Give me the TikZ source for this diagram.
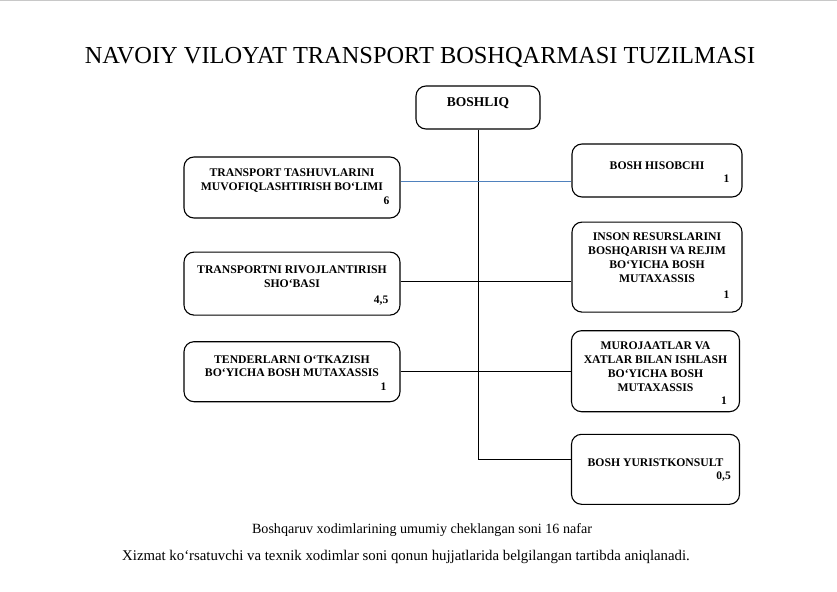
\documentclass[tikz,border=0pt]{standalone}
\usepackage{fontspec}
\setmainfont{Liberation Serif}
\usepackage{tikz}
\usetikzlibrary{positioning,calc}
\definecolor{orgline}{RGB}{79,129,189}
\definecolor{orggrey}{RGB}{200,200,200}

\begin{document}
\begin{tikzpicture}[
      x=1pt, y=-1pt,
      unit/.style={rectangle, rounded corners=10pt, draw=black, line width=1.1pt, inner sep=0pt},
      unittext/.style={align=center, inner sep=0pt, font=\fontsize{11.7}{13.8}\selectfont\bfseries},
      staffnum/.style={inner sep=0pt, text depth=0pt, font=\fontsize{11.5}{13.8}\selectfont\bfseries},
      link/.style={line width=0.8pt, draw=black},
      note/.style={font=\fontsize{14.8}{17}\selectfont},
    ]
    \useasboundingbox (0,0) rectangle (837,591);
    \draw[orggrey, line width=1.5pt] (0,0.75) -- (837,0.75);

    \node[font=\fontsize{24.4}{28}\selectfont] (title) at (420,57) {NAVOIY VILOYAT TRANSPORT BOSHQARMASI TUZILMASI};

    \node[unit, minimum width=124pt, minimum height=43pt] (boshliq) at (478,107.5) {};
    \node[unittext, font=\fontsize{13.5}{15}\selectfont\bfseries, below=12pt of boshliq.north] (boshliqtxt) {BOSHLIQ};

    % left column
    \node[unit, minimum width=216pt, minimum height=61pt] (tashuv) at (292,187.5) {};
    \node[unittext, below=12pt of tashuv.north] (tashuvtxt) {TRANSPORT TASHUVLARINI\\MUVOFIQLASHTIRISH BO‘LIMI};
    \node[staffnum, above left=14pt and 11pt of tashuv.south east] (tashuvnum) {6};

    \node[unit, minimum width=216pt, minimum height=63pt, below=33pt of tashuv] (rivoj) {};
    \node[unittext, below=14pt of rivoj.north] (rivojtxt) {TRANSPORTNI RIVOJLANTIRISH\\SHO‘BASI};
    \node[staffnum, above left=11.5pt and 12pt of rivoj.south east] (rivojnum) {4,5};

    \node[unit, minimum width=216pt, minimum height=60pt, below=25.5pt of rivoj] (tender) {};
    \node[unittext, below=14pt of tender.north] (tendertxt) {TENDERLARNI O‘TKAZISH\\BO‘YICHA BOSH MUTAXASSIS};
    \node[staffnum, above left=12pt and 14pt of tender.south east] (tendernum) {1};

    % right column
    \node[unit, minimum width=170pt, minimum height=53pt] (hisobchi) at (657,170.5) {};
    \node[unittext, below=18pt of hisobchi.north] (hisobchitxt) {BOSH HISOBCHI};
    \node[staffnum, above left=14.5pt and 13pt of hisobchi.south east] (hisobchinum) {1};

    \node[unit, minimum width=170pt, minimum height=90pt, below=24pt of hisobchi] (inson) {};
    \node[unittext, below=11.5pt of inson.north] (insontxt) {INSON RESURSLARINI\\BOSHQARISH VA REJIM\\BO‘YICHA BOSH\\MUTAXASSIS};
    \node[staffnum, above left=13.5pt and 13pt of inson.south east] (insonnum) {1};

    \node[unit, minimum width=168pt, minimum height=81pt, below=17.5pt of inson, xshift=-1.5pt] (murojaat) {};
    \node[unittext, below=11.5pt of murojaat.north] (murojaattxt) {MUROJAATLAR VA\\XATLAR BILAN ISHLASH\\BO‘YICHA BOSH\\MUTAXASSIS};
    \node[staffnum, above left=8pt and 13pt of murojaat.south east] (murojaatnum) {1};

    \node[unit, minimum width=168pt, minimum height=70pt, below=21.5pt of murojaat] (yurist) {};
    \node[unittext, below=25pt of yurist.north] (yuristtxt) {BOSH YURISTKONSULT};
    \node[staffnum, above left=25.5pt and 9pt of yurist.south east] (yuristnum) {0,5};

    \node[note, font=\fontsize{14.1}{17}\selectfont] (limit) at (422,530) {Boshqaruv xodimlarining umumiy cheklangan soni 16 nafar};
    \node[note] (staff) at (406,557) {Xizmat ko‘rsatuvchi va texnik xodimlar soni qonun hujjatlarida belgilangan tartibda aniqlanadi.};

    \draw[link] (boshliq.south) |- ([yshift=10pt]yurist.west);
    \draw[link, draw=orgline] ([yshift=6.5pt]tashuv.east) -- ([yshift=6.5pt]tashuv.east -| hisobchi.west);
    \draw[link] ([yshift=2pt]rivoj.east) -- ([yshift=2pt]rivoj.east -| inson.west);
    \draw[link] (tender.east) -- (tender.east -| murojaat.west);
  \end{tikzpicture}
\end{document}
